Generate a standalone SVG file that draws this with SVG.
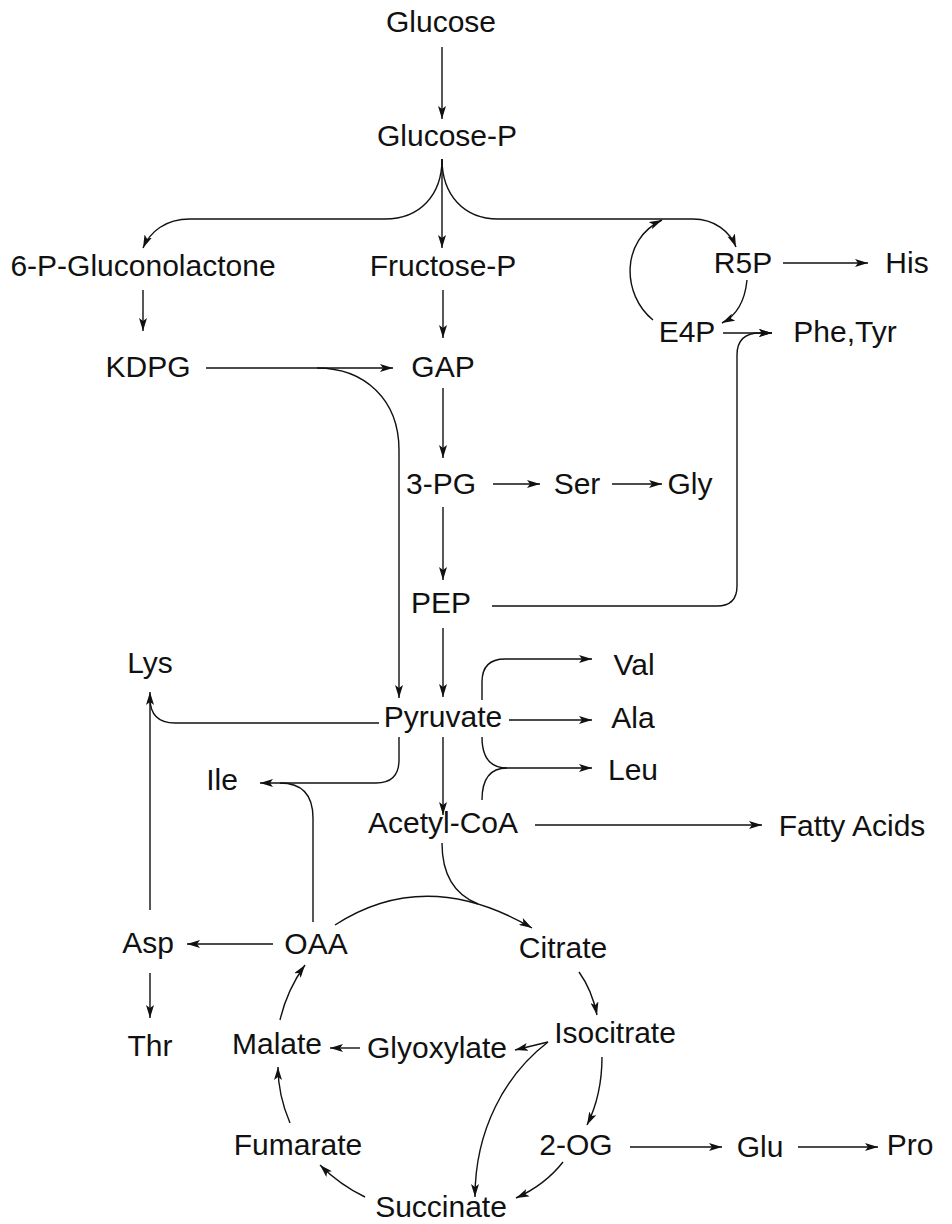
<svg xmlns="http://www.w3.org/2000/svg" width="952" height="1224" viewBox="0 0 952 1224">
<style>
text{font-family:"Liberation Sans",Arial,sans-serif;font-size:30px;fill:#111;text-anchor:middle}
.c path{fill:none;stroke:#111;stroke-width:1.4}
.m{marker-end:url(#a)}
</style>
<defs>
<marker id="a" viewBox="0 0 13 8" refX="13" refY="4" markerWidth="13" markerHeight="8" orient="auto" markerUnits="userSpaceOnUse"><path d="M0,0 L13,4 L0,8 L3,4 z" fill="#111"/></marker>
</defs>
<rect width="952" height="1224" fill="#fff"/>
<g class="c" id="connectors">
<path class="m" d="M442,47 L442,119"/>
<path class="m" d="M442,159 L442,248"/>
<path class="m" d="M442,159 C442,195 420,219 385,219 L190,219 C165,219 150,232 143,248"/>
<path class="m" d="M442,159 C442,195 464,219 498,219 L693,219 C715,219 730,232 736,247"/>
<path class="m" d="M653,320 C622,295 620,240 662,220"/>
<path class="m" d="M747,280 C745,300 738,315 722,323"/>
<path class="m" d="M783,263 L868,263"/>
<path class="m" d="M723,333 L772,333"/>
<path class="m" d="M492,606 L717,606 Q737,606 737,586 L737,355 Q737,333 760,333 L772,333"/>
<path class="m" d="M143,290 L143,331"/>
<path class="m" d="M443,290 L443,338"/>
<path class="m" d="M206,368 L393,368"/>
<path class="m" d="M317,368 C365,368 399,400 399,450 L399,698"/>
<path class="m" d="M443,388 L443,458"/>
<path class="m" d="M493,484 L540,484"/>
<path class="m" d="M612,484 L662,484"/>
<path class="m" d="M443,507 L443,580"/>
<path class="m" d="M443,628 L443,697"/>
<path class="m" d="M509,720 L592,720"/>
<path class="m" d="M482,700 L482,682 Q482,659 505,659 L592,659"/>
<path class="m" d="M482,737 Q482,768 507,768 L592,768"/>
<path d="M482,800 Q482,768 507,768"/>
<path class="m" d="M443,737 L443,815"/>
<path d="M379,723 L175,723 Q150,723 150,698"/>
<path class="m" d="M150,910 L150,692"/>
<path class="m" d="M399,737 L399,760 Q399,783 376,783 L260,783"/>
<path d="M313,922 L313,818 Q313,783 280,783"/>
<path class="m" d="M535,825 L762,825"/>
<path class="m" d="M335,925 Q426,866 532,928"/>
<path d="M442,843 C442,878 458,896 478,904"/>
<path class="m" d="M579,972 Q592,990 597,1015"/>
<path class="m" d="M548,1042 L515,1050"/>
<path class="m" d="M548,1042 C505,1075 475,1130 475,1197"/>
<path class="m" d="M360,1048 L330,1048"/>
<path class="m" d="M280,1020 Q287,990 305,965"/>
<path class="m" d="M290,1123 Q278,1095 278,1067"/>
<path class="m" d="M365,1197 Q340,1185 320,1165"/>
<path class="m" d="M563,1162 Q545,1185 516,1198"/>
<path class="m" d="M602,1057 Q602,1095 587,1125"/>
<path class="m" d="M630,1147 L722,1147"/>
<path class="m" d="M798,1147 L878,1147"/>
<path class="m" d="M273,944 L187,944"/>
<path class="m" d="M150,973 L150,1018"/>
</g>
<g id="glucose"><text x="441" y="32">Glucose</text></g>
<g id="glucose-p"><text x="447" y="146">Glucose-P</text></g>
<g id="gluconolactone"><text x="143" y="276">6-P-Gluconolactone</text></g>
<g id="fructose-p"><text x="443" y="276">Fructose-P</text></g>
<g id="r5p"><text x="743" y="273">R5P</text></g>
<g id="his"><text x="907" y="273">His</text></g>
<g id="kdpg"><text x="148" y="377">KDPG</text></g>
<g id="gap"><text x="443" y="377">GAP</text></g>
<g id="e4p"><text x="687" y="342">E4P</text></g>
<g id="phetyr"><text x="845" y="342">Phe,Tyr</text></g>
<g id="pg3"><text x="441" y="494">3-PG</text></g>
<g id="ser"><text x="577" y="494">Ser</text></g>
<g id="gly"><text x="690" y="494">Gly</text></g>
<g id="pep"><text x="441" y="613">PEP</text></g>
<g id="lys"><text x="150" y="673">Lys</text></g>
<g id="val"><text x="634" y="675">Val</text></g>
<g id="pyruvate"><text x="443" y="727">Pyruvate</text></g>
<g id="ala"><text x="633" y="728">Ala</text></g>
<g id="leu"><text x="633" y="780">Leu</text></g>
<g id="ile"><text x="222" y="790">Ile</text></g>
<g id="acetylcoa"><text x="443" y="833">Acetyl-CoA</text></g>
<g id="fatty"><text x="852" y="836">Fatty Acids</text></g>
<g id="asp"><text x="148" y="953">Asp</text></g>
<g id="oaa"><text x="316" y="954">OAA</text></g>
<g id="citrate"><text x="563" y="958">Citrate</text></g>
<g id="thr"><text x="150" y="1056">Thr</text></g>
<g id="malate"><text x="277" y="1054">Malate</text></g>
<g id="glyoxylate"><text x="437" y="1058">Glyoxylate</text></g>
<g id="isocitrate"><text x="615" y="1043">Isocitrate</text></g>
<g id="fumarate"><text x="298" y="1155">Fumarate</text></g>
<g id="og2"><text x="576" y="1155">2-OG</text></g>
<g id="glu"><text x="760" y="1157">Glu</text></g>
<g id="pro"><text x="910" y="1155">Pro</text></g>
<g id="succinate"><text x="441" y="1217">Succinate</text></g>
</svg>
